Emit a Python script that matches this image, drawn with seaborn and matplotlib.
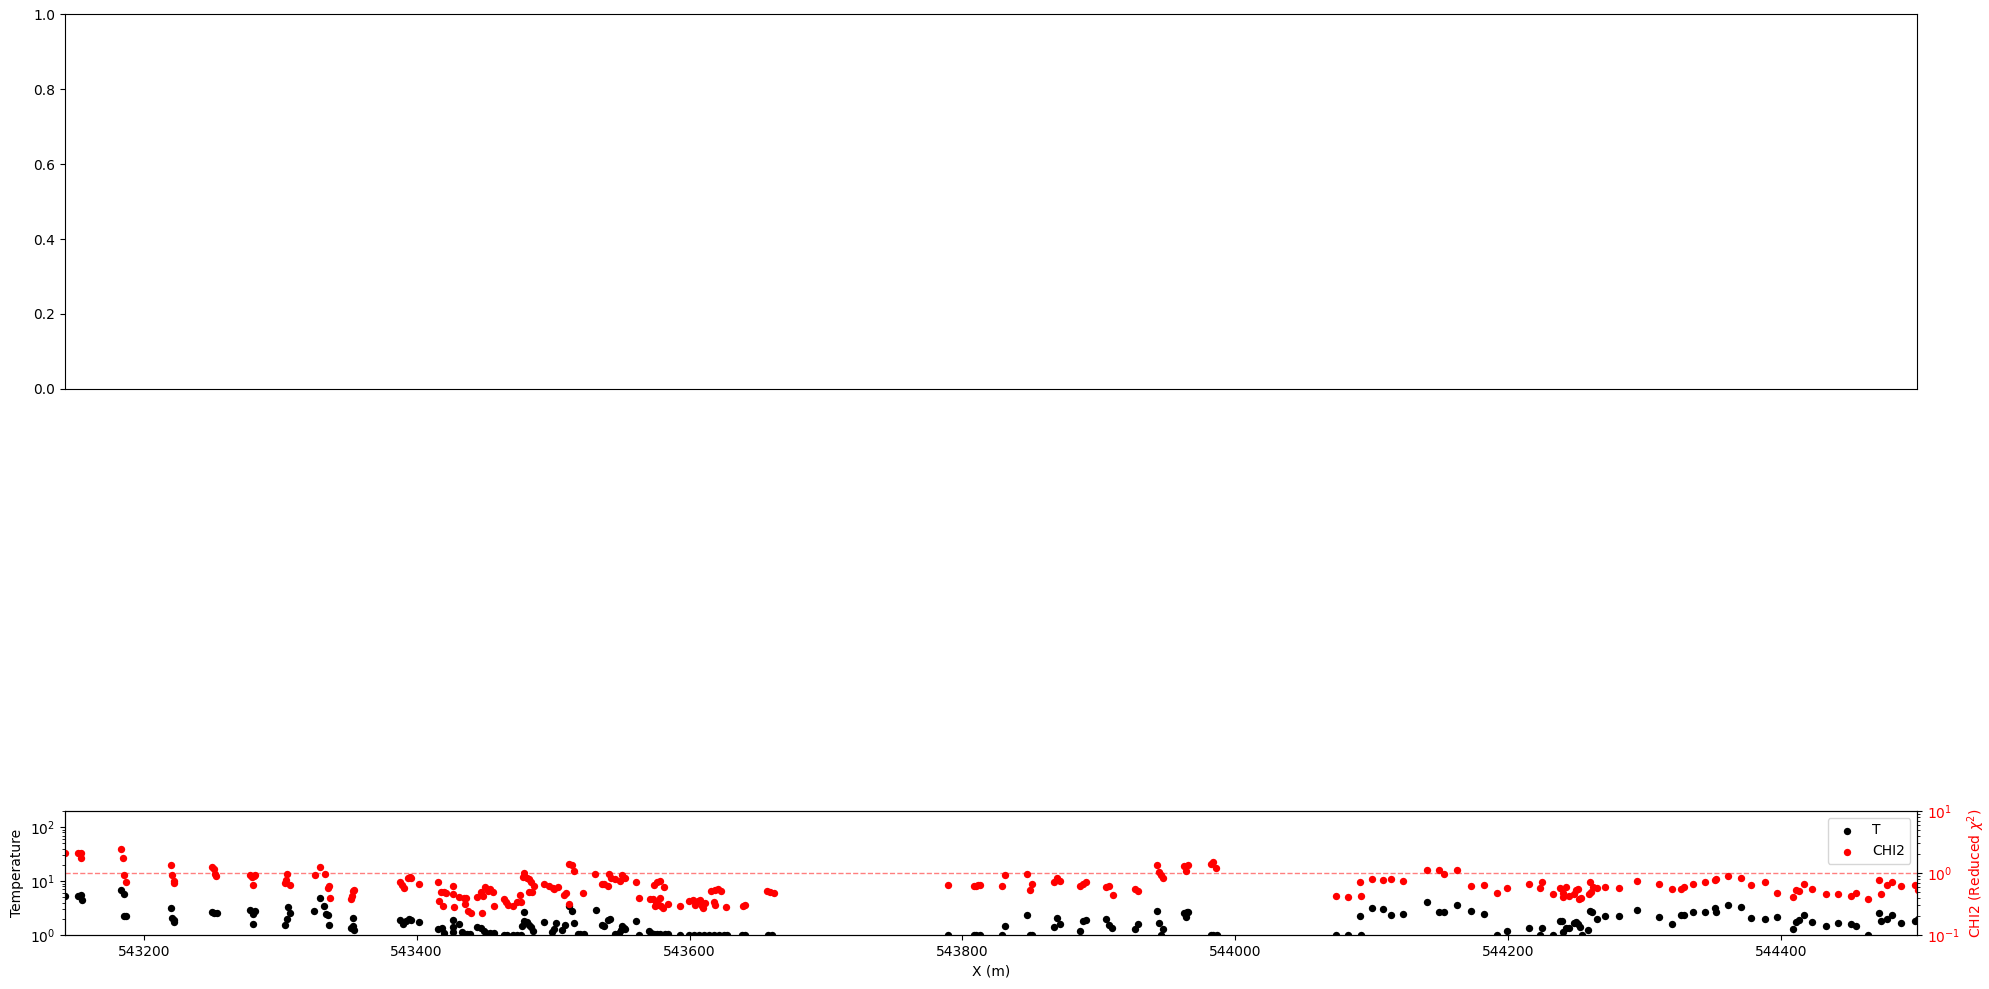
import numpy as np
import seaborn as sns
import matplotlib.pyplot as plt

# temperature samples (x in m, T)
x_t = [543142, 543152, 543154, 543154.5, 543183.6, 543185.3, 543185.6, 543187.3,
       543219.6, 543220.8, 543221.8, 543222.5, 543250.1, 543251.6, 543253.3,
       543278.0, 543280.2, 543281.4, 543280.4, 543305.8, 543306.8, 543304.6, 543303.6,
       543324.9, 543328.8, 543332.2, 543333.9, 543335.2, 543336.1,
       543353.0, 543352.2, 543353.7, 543354.0,
       543387.9, 543389.9, 543392.1, 543394.5, 543396.2, 543401.4,
       543416.0, 543418.9, 543420.4, 543426.5, 543426.3, 543427.0, 543431.2, 543433.6,
       543434.9, 543436.8, 543439.3, 543444.1, 543447.1, 543449.0, 543450.7, 543453.7,
       543456.4, 543464.2, 543466.1, 543470.3, 543473.5, 543476.4,
       543478.9, 543476.9, 543478.4, 543480.8, 543482.3, 543483.7, 543485.5,
       543493.5, 543498.9, 543500.8, 543502.1, 543506.2, 543508.7, 543511.8, 543513.6,
       543515.0, 543518.0, 543519.9, 543522.3,
       543531.2, 543535.9, 543537.6, 543540.0, 543542.0, 543545.6, 543548.1, 543549.8,
       543550.5, 543551.7, 543553.0, 543560.8, 543562.7, 543570.3, 543571.8, 543573.7,
       543576.2, 543578.6, 543582.3, 543584.0,
       543593.3, 543599.4, 543603.1, 543606.7, 543610.4, 543614.1, 543617.7, 543621.4,
       543625.1, 543627.5, 543638.5, 543641.0, 543657.3, 543660.5,
       543789.5, 543808.3, 543810.3, 543812.7, 543829.1, 543831.1,
       543847.4, 543849.4, 543851.1, 543867.0, 543869.0, 543871.4,
       543886.1, 543888.5, 543890.4, 543905.1, 543907.3, 543910.0,
       543926.7, 543928.6, 543942.3, 543943.8, 543947.0, 543945.5,
       543962.4, 543964.3, 543965.3, 543963.8, 543981.9, 543983.9, 543986.3,
       544073.8, 544082.6, 544091.9, 544091.4, 544100.2, 544108.3, 544114.4,
       544122.9, 544140.5, 544149.3, 544153.0, 544162.5, 544172.8, 544182.3,
       544191.8, 544199.2, 544215.3, 544223.6, 544224.8, 544232.9,
       544237.8, 544239.7, 544240.5, 544242.4, 544244.6, 544248.5, 544250.0, 544251.2,
       544252.9, 544254.4, 544258.5,
       544259.8, 544261.7, 544265.2, 544271.3, 544281.3, 544294.5, 544310.4,
       544320.2, 544326.6, 544329.0, 544335.6, 544344.2, 544351.5, 544352.7, 544361.3,
       544370.6, 544378.4, 544388.2, 544397.2, 544409.0, 544411.4, 544413.1, 544417.0,
       544422.9, 544433.1, 544441.9, 544451.7, 544454.9, 544463.9, 544472.0, 544473.7,
       544477.8, 544481.5, 544487.9, 544498.6, 544500.6]
t_vals = [5.4, 5.4, 5.6, 4.4, 6.9, 5.7, 2.26, 2.26,
          3.14, 2.1, 1.9, 1.72, 2.65, 2.53, 2.53,
          2.92, 2.43, 2.8, 1.6, 3.28, 2.53, 1.96, 1.54,
          2.8, 4.82, 3.47, 2.43, 2.36, 1.51,
          2.1, 1.37, 1.47, 1.24,
          1.93, 1.63, 1.85, 2.01, 1.9, 1.72,
          1.28, 1.33, 1.09, 1.88, 1.41, 1.15, 1.6, 1.15,
          1.03, 1.03, 1.03, 1.39, 1.37, 1.19, 1.07, 1.1,
          1.1, 1.0, 1.0, 1.0, 1.0, 1.0,
          2.72, 1.47, 1.82, 1.77, 1.54, 1.39, 1.19,
          1.72, 1.15, 1.28, 1.7, 1.24, 1.54, 3.42, 2.8,
          1.7, 1.03, 1.03, 1.03,
          2.88, 1.54, 1.49, 1.9, 1.98, 1.03, 1.07, 1.24,
          1.47, 1.37, 1.29, 1.82, 1.02, 1.19, 1.1, 1.06,
          1.06, 1.06, 1.04, 1.04,
          1.0, 1.0, 1.0, 1.0, 1.0, 1.0, 1.0, 1.0,
          1.0, 1.0, 1.0, 1.0, 1.0, 1.0,
          1.0, 1.0, 1.0, 1.0, 1.0, 1.45,
          2.33, 1.0, 1.0, 1.39, 2.04, 1.6,
          1.17, 1.8, 1.88, 1.96, 1.54, 1.35,
          1.28, 1.6, 2.76, 1.67, 1.29, 1.0,
          2.53, 2.65, 2.72, 2.13, 1.0, 1.0, 1.0,
          1.0, 1.0, 1.0, 2.23, 3.14, 3.0, 2.36,
          2.43, 4.06, 2.65, 2.65, 3.62, 2.76, 2.46,
          1.0, 1.17, 1.33, 1.0, 1.33, 1.0,
          1.8, 1.8, 1.15, 1.37, 1.33, 1.65, 1.72, 1.6,
          1.41, 1.0, 1.22,
          2.8, 2.65, 1.96, 2.26, 2.23, 2.88, 2.2,
          1.6, 2.36, 2.36, 2.65, 2.65, 3.14, 2.65, 3.62,
          3.28, 2.04, 1.96, 2.13, 1.28, 1.77, 1.88, 2.36,
          1.72, 1.45, 1.65, 1.6, 1.45, 1.0, 2.53, 1.82,
          1.96, 2.36, 1.65, 1.82, 1.99]

# reduced chi2 samples
x_chi = [543142, 543151.9, 543153.8, 543154.3, 543183.6, 543185.1, 543185.8, 543187.3,
         543219.6, 543220.8, 543222.3, 543221.8, 543250.1, 543251.1, 543252.3, 543253.0,
         543278.0, 543279.4, 543280.9, 543280.4, 543281.4, 543305.1, 543304.1, 543303.4, 543306.8,
         543325.4, 543328.8, 543332.7, 543335.1, 543335.9, 543336.4,
         543351.8, 543352.7, 543353.5, 543354.2,
         543387.9, 543389.1, 543390.4, 543393.3, 543394.8, 543396.2, 543401.4,
         543416.0, 543418.2, 543416.5, 543419.7, 543421.4, 543427.0, 543426.3, 543427.5, 543419.2,
         543431.2, 543434.4, 543436.1, 543435.8, 543437.8, 543439.7, 543447.6,
         543444.1, 543447.1, 543448.5, 543450.0, 543452.0, 543453.4, 543455.6, 543456.4,
         543463.7, 543465.4, 543467.1, 543470.3, 543473.5, 543476.4, 543475.9, 543477.9,
         543478.9, 543480.6, 543482.3, 543483.7, 543485.7, 543482.5, 543484.2,
         543493.5, 543497.2, 543499.6, 543500.8, 543503.3, 543507.7, 543509.4, 543511.8,
         543511.3, 543513.6, 543515.0, 543521.6,
         543531.0, 543535.9, 543537.6, 543540.0, 543540.7, 543542.5, 543545.6, 543548.8,
         543550.8, 543551.0, 543553.0, 543560.8, 543562.7, 543573.7, 543576.2, 543578.6, 543581.6,
         543570.8, 543573.2, 543575.4, 543577.4, 543578.1, 543579.1, 543580.6, 543584.0, 543575.0,
         543593.3, 543599.4, 543602.6, 543604.3, 543606.0, 543608.0, 543609.2, 543609.9,
         543611.6, 543615.8, 543619.0, 543620.9, 543623.4, 543617.7, 543618.5, 543626.5,
         543639.0, 543641.0, 543656.8, 543659.3, 543661.7,
         543789.5, 543808.3, 543809.8, 543811.5, 543813.2, 543829.1, 543831.1,
         543847.4, 543849.4, 543851.1, 543867.0, 543869.0, 543871.4,
         543886.1, 543888.5, 543890.4, 543905.1, 543907.3, 543910.5,
         543926.7, 543928.6, 543942.3, 543943.8, 543945.5, 543947.0,
         543962.4, 543965.3, 543963.8, 543981.9, 543983.6, 543985.6,
         544073.8, 544082.6, 544091.4, 544091.9, 544100.2, 544108.3, 544114.4,
         544122.9, 544140.5, 544149.3, 544153.0, 544162.5,
         544172.8, 544182.3, 544191.8, 544199.2, 544215.3, 544223.6, 544224.8, 544232.9,
         544238.3, 544240.0, 544240.5, 544242.4, 544244.6, 544248.5, 544250.0, 544251.2,
         544252.2, 544253.4, 544259.0, 544259.8, 544260.8, 544262.0, 544265.4, 544271.3,
         544281.3, 544294.5, 544310.4,
         544320.2, 544326.6, 544329.0, 544335.6, 544344.2, 544351.5, 544352.7, 544361.3,
         544370.6, 544378.4, 544388.2, 544397.2, 544409.0, 544411.4, 544413.1, 544417.0,
         544422.9, 544433.1, 544441.9, 544451.7, 544454.9, 544463.9, 544472.0, 544473.7,
         544477.8, 544481.5, 544487.9, 544498.6, 544500.6]
chi_vals = [2.08, 2.08, 2.08, 1.72, 2.41, 1.72, 0.92, 0.71,
            1.33, 0.93, 0.73, 0.68, 1.23, 1.15, 0.95, 0.89,
            0.92, 0.87, 0.89, 0.64, 0.93, 0.95, 0.77, 0.68, 0.64,
            0.93, 1.27, 0.96, 0.58, 0.62, 0.39,
            0.376, 0.43, 0.52, 0.54,
            0.71, 0.64, 0.57, 0.84, 0.87, 0.84, 0.66,
            0.71, 0.50, 0.36, 0.49, 0.47, 0.61, 0.45, 0.28, 0.29,
            0.41, 0.40, 0.39, 0.32, 0.24, 0.23, 0.23,
            0.41, 0.50, 0.43, 0.59, 0.52, 0.55, 0.49, 0.29,
            0.376, 0.34, 0.31, 0.29, 0.345, 0.345, 0.44, 0.85,
            0.99, 0.84, 0.80, 0.71, 0.62, 0.50, 0.49,
            0.665, 0.62, 0.566, 0.55, 0.60, 0.44, 0.47, 0.32,
            1.38, 1.35, 1.06, 0.47,
            0.96, 0.665, 0.66, 0.61, 0.96, 0.84, 0.80, 0.74,
            0.93, 0.84, 0.84, 0.71, 0.39, 0.63, 0.71, 0.73, 0.59,
            0.376, 0.376, 0.345, 0.31, 0.40, 0.29, 0.27, 0.32, 0.29,
            0.29, 0.35, 0.37, 0.305, 0.36, 0.37, 0.29, 0.27,
            0.33, 0.505, 0.53, 0.55, 0.51, 0.345, 0.305, 0.28,
            0.29, 0.305, 0.51, 0.49, 0.47,
            0.63, 0.61, 0.62, 0.63, 0.63, 0.61, 0.93,
            0.96, 0.525, 0.66, 0.71, 0.83, 0.73,
            0.61, 0.67, 0.71, 0.59, 0.62, 0.44,
            0.55, 0.51, 1.33, 1.04, 0.94, 0.83,
            1.28, 1.33, 1.08, 1.38, 1.49, 1.19,
            0.43, 0.41, 0.72, 0.43, 0.79, 0.76, 0.79,
            0.73, 1.12, 1.12, 0.95, 1.12,
            0.62, 0.63, 0.47, 0.57, 0.655, 0.57, 0.71, 0.45,
            0.57, 0.47, 0.41, 0.59, 0.43, 0.45, 0.53, 0.55,
            0.376, 0.39, 0.45, 0.72, 0.50, 0.59, 0.57, 0.59,
            0.57, 0.73, 0.66,
            0.55, 0.55, 0.60, 0.655, 0.71, 0.76, 0.80, 0.88,
            0.84, 0.63, 0.71, 0.47, 0.41, 0.53, 0.51, 0.655,
            0.55, 0.45, 0.45, 0.43, 0.47, 0.376, 0.76, 0.45,
            0.63, 0.71, 0.61, 0.63, 0.53]


def main():
    fig = plt.figure(figsize=(19.9, 9.89), dpi=100)

    # empty upper panel
    ax_top = fig.add_axes([0.0325, 0.6067, 0.931, 0.3791])
    ax_top.set_ylim(0, 1)
    ax_top.set_xticks([])

    ax = fig.add_axes([0.0325, 0.0546, 0.931, 0.1254])
    ax.set_yscale('log')
    sns.scatterplot(x=x_t, y=t_vals, ax=ax, color='k', s=28, linewidth=0, label='T')
    ax.set_ylim(1, 200)
    ax.set_xlim(543142, 544500)
    ax.set_ylabel('Temperature')
    ax.set_xlabel('X (m)')
    if ax.get_legend():
        ax.get_legend().remove()

    ax2 = ax.twinx()
    ax2.set_yscale('log')
    sns.scatterplot(x=x_chi, y=chi_vals, ax=ax2, color='r', s=28, linewidth=0, label='CHI2')
    ax2.axhline(1, color='r', linestyle='--', linewidth=1, alpha=0.5)
    ax2.set_ylim(0.1, 10)
    ax2.set_xlim(543142, 544500)
    ax2.set_ylabel(r'CHI2 (Reduced $\chi^2$)', color='r')
    ax2.tick_params(axis='y', which='both', labelcolor='r')

    h1, l1 = ax.get_legend_handles_labels()
    h2, l2 = ax2.get_legend_handles_labels()
    ax2.legend(h1 + h2, l1 + l2, loc='upper right')

    plt.savefig('out.png', dpi=100)


if __name__ == '__main__':
    main()
